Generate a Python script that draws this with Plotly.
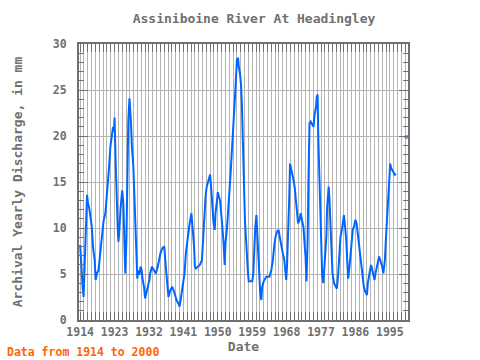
import plotly.graph_objects as go

# Decimal-year positions and discharge values (mm)
years = [1914.0, 1914.1, 1914.3, 1914.65, 1914.9, 1915.2, 1915.4, 1915.8, 1916.05, 1916.4, 1916.7, 1917.0,
         1917.4, 1917.8, 1918.05, 1918.4, 1918.8, 1919.3, 1919.7, 1920.1, 1920.6, 1921.0, 1921.4, 1921.6,
         1921.9, 1922.2, 1922.6, 1922.85, 1923.0, 1923.3, 1923.5, 1923.8, 1924.0, 1924.2, 1924.6, 1925.0,
         1925.3, 1925.5, 1925.6, 1925.8, 1926.1, 1926.25, 1926.4, 1926.6, 1926.9, 1927.1, 1927.3, 1927.55,
         1927.9, 1928.1, 1928.3, 1928.6, 1928.8, 1928.95, 1929.2, 1929.5, 1929.8, 1930.1, 1930.3, 1930.7,
         1931.0, 1931.3, 1931.7, 1932.1, 1932.3, 1932.8, 1933.3, 1933.8, 1934.3, 1934.6, 1935.0, 1935.5,
         1936.0, 1936.4, 1936.8, 1937.1, 1937.6, 1938.1, 1938.7, 1939.2, 1939.7, 1940.0, 1940.4, 1941.0,
         1941.3, 1941.65, 1942.1, 1942.5, 1943.1, 1943.4, 1943.8, 1944.0, 1944.3, 1944.8, 1945.3, 1945.85,
         1946.2, 1946.5, 1946.8, 1947.1, 1947.6, 1948.0, 1948.4, 1948.6, 1948.9, 1949.2, 1949.4, 1949.8,
         1950.0, 1950.3, 1950.6, 1950.9, 1951.2, 1951.5, 1951.8, 1952.0, 1952.4, 1952.7, 1953.1, 1953.35,
         1953.6, 1953.9, 1954.1, 1954.4, 1954.65, 1955.0, 1955.3, 1955.5, 1955.8, 1956.05, 1956.3, 1956.6,
         1956.8, 1957.1, 1957.4, 1957.6, 1957.9, 1958.1, 1958.6, 1959.0, 1959.3, 1959.5, 1959.8, 1960.1,
         1960.3, 1960.6, 1960.8, 1961.1, 1961.4, 1961.6, 1962.0, 1962.3, 1962.7, 1963.1, 1963.5, 1964.0,
         1964.4, 1964.8, 1965.1, 1965.5, 1965.9, 1966.2, 1966.6, 1967.0, 1967.4, 1967.6, 1967.9, 1968.1,
         1968.4, 1968.7, 1968.9, 1969.2, 1969.5, 1969.8, 1970.1, 1970.4, 1970.7, 1971.0, 1971.4, 1971.7,
         1972.0, 1972.4, 1972.7, 1972.95, 1973.2, 1973.5, 1973.7, 1974.0, 1974.3, 1974.7, 1975.05, 1975.3,
         1975.7, 1975.9, 1976.1, 1976.3, 1976.5, 1976.8, 1977.05, 1977.3, 1977.6, 1977.8, 1978.1, 1978.4,
         1978.6, 1979.0, 1979.2, 1979.5, 1979.75, 1980.0, 1980.4, 1980.7, 1981.15, 1981.5, 1981.85, 1982.1,
         1982.45, 1982.7, 1983.0, 1983.3, 1983.6, 1983.85, 1984.1, 1984.45, 1984.7, 1985.1, 1985.3, 1985.7,
         1986.0, 1986.3, 1986.55, 1986.8, 1987.1, 1987.3, 1987.6, 1987.9, 1988.2, 1988.55, 1989.0, 1989.25,
         1989.6, 1989.9, 1990.1, 1990.4, 1990.7, 1991.0, 1991.25, 1991.6, 1991.9, 1992.2, 1992.5, 1992.7,
         1993.0, 1993.3, 1993.7, 1994.0, 1994.3, 1994.6, 1994.8, 1995.1, 1995.35, 1995.6, 1996.0, 1996.3,
         1996.6, 1998.0, 1999.3]

discharge = [8.15, 7.25, 5.07, 3.6, 2.5, 6.7, 9.4, 13.6, 12.7, 12.1, 11.2, 10.3,
             7.8, 6.5, 4.35, 5.07, 5.4, 7.8, 9.2, 10.7, 11.6, 13.4, 15.2, 16.8,
             18.8, 19.9, 21.0, 20.5, 22.0, 17.0, 13.6, 10.3, 8.5, 9.4, 12.3, 14.1,
             12.7, 9.6, 6.7, 5.07, 8.7, 12.3, 17.0, 21.7, 24.1, 23.2, 21.4, 18.8,
             16.8, 14.5, 11.6, 8.7, 5.8, 4.5, 5.4, 4.9, 5.8, 5.4, 4.5, 3.6,
             2.35, 2.9, 3.6, 4.35, 5.07, 5.8, 5.4, 5.07, 5.8, 6.5, 7.25, 7.8,
             8.0, 5.8, 3.26, 2.5, 3.26, 3.6, 2.9, 2.17, 1.8, 1.45, 2.5, 4.0,
             5.07, 7.25, 9.05, 10.1, 11.6, 10.1, 8.0, 5.8, 5.6, 5.8, 5.98, 6.5,
             9.4, 11.6, 13.4, 14.5, 15.1, 15.8, 13.6, 12.0, 10.5, 9.8, 11.6, 13.0,
             13.9, 13.4, 13.0, 11.6, 10.1, 8.5, 5.98, 8.3, 9.96, 12.3, 14.1, 15.9,
             17.75, 19.6, 21.4, 23.4, 25.4, 28.3, 28.5, 27.5, 26.8, 25.7, 23.55, 18.8,
             14.1, 10.9, 8.7, 6.9, 5.07, 4.2, 4.2, 4.2, 5.07, 8.0, 10.1, 11.4,
             9.4, 8.0, 5.6, 2.9, 2.17, 3.6, 4.2, 4.5, 4.7, 4.7, 4.7, 5.4,
             6.5, 8.15, 9.05, 9.6, 9.8, 9.05, 8.0, 7.25, 6.5, 5.8, 4.35, 5.8,
             8.7, 13.4, 17.0, 16.5, 15.9, 15.2, 14.5, 13.4, 12.3, 10.5, 10.9, 11.6,
             10.9, 10.1, 8.3, 6.9, 4.2, 8.7, 14.86, 21.4, 21.56, 21.2, 21.0, 22.3,
             23.2, 24.3, 24.5, 19.6, 16.7, 13.4, 8.7, 4.9, 4.0, 5.07, 6.5, 9.05,
             12.3, 14.5, 13.2, 10.1, 8.0, 5.07, 4.0, 3.8, 3.4, 5.07, 8.0, 9.05,
             9.8, 10.7, 11.4, 10.1, 8.7, 6.5, 4.5, 5.8, 7.25, 9.05, 9.8, 10.3,
             10.9, 10.5, 9.8, 8.7, 7.6, 6.9, 5.8, 4.5, 3.6, 3.1, 2.7, 4.0,
             5.07, 5.6, 5.98, 5.4, 4.7, 4.35, 5.07, 5.8, 6.2, 6.9, 6.5, 6.3,
             5.8, 5.07, 6.5, 9.05, 11.6, 13.6, 15.9, 17.0, 16.5, 16.3, 15.9, 15.8,
             15.9, None, 19.9]

tick_years = [1914, 1923, 1932, 1941, 1950, 1959, 1968, 1977, 1986, 1995]
y_ticks = [0, 5, 10, 15, 20, 25, 30]

# marker only for isolated points (no neighbours on either side)
sizes = []
for i, v in enumerate(discharge):
    prev_ok = i > 0 and discharge[i - 1] is not None
    next_ok = i < len(discharge) - 1 and discharge[i + 1] is not None
    sizes.append(5 if (v is not None and not prev_ok and not next_ok) else 0)

FONT = "DejaVu Sans Mono"
GRAY = "#707070"
PLOT_W = 329
PLOT_H = 276

fig = go.Figure()
fig.add_trace(go.Scatter(
    x=years, y=discharge, mode="lines+markers",
    line=dict(color="#0066ff", width=2),
    marker=dict(size=sizes, color="#0066ff"),
    connectgaps=False, showlegend=False, hoverinfo="skip",
))

fig.update_layout(
    width=480, height=360,
    margin=dict(l=79, r=72, t=44, b=40, autoexpand=False),
    paper_bgcolor="white", plot_bgcolor="white",
    title=dict(text="<b>Assiniboine River At Headingley</b>", x=254 / 480, xanchor="center",
               y=1 - 18 / 360, yanchor="middle",
               font=dict(family=FONT, size=13, color=GRAY)),
    font=dict(family=FONT, color=GRAY),
)

fig.update_xaxes(
    automargin=False,
    range=[1913.7, 1999.75],
    tickvals=tick_years, ticktext=[f"<b>{t}</b>" for t in tick_years],
    ticks="inside", ticklen=8, tickwidth=1, tickcolor=GRAY,
    tickfont=dict(family=FONT, size=11.5, color=GRAY),
    showgrid=True, gridcolor="#b4b4b4", gridwidth=1,
    minor=dict(dtick=1, tick0=1914, ticks="inside", ticklen=8, tickcolor=GRAY,
               showgrid=True, gridcolor="#b4b4b4", gridwidth=1),
    showline=True, linecolor=GRAY, linewidth=2, mirror="ticks",
    zeroline=False,
    title=dict(text="<b>Date</b>", font=dict(family=FONT, size=13, color=GRAY), standoff=2),
)

fig.update_yaxes(
    automargin=False,
    range=[0, 30],
    tickvals=y_ticks, ticktext=[f"<b>{t}</b>" for t in y_ticks],
    ticks="inside", ticklen=9, tickwidth=1, tickcolor=GRAY,
    tickfont=dict(family=FONT, size=11.5, color=GRAY),
    ticklabelstandoff=8,
    showgrid=True, gridcolor="#b4b4b4", gridwidth=1,
    minor=dict(dtick=1, tick0=0, ticks="inside", ticklen=5, tickcolor=GRAY, showgrid=False),
    showline=True, linecolor=GRAY, linewidth=2, mirror="ticks",
    zeroline=False,
    title=dict(text="<b>Archival Yearly Discharge, in mm</b>",
               font=dict(family=FONT, size=13, color=GRAY), standoff=27),
)

fig.add_annotation(
    text="<b>Data from 1914 to 2000</b>", xref="paper", yref="paper",
    x=-74 / PLOT_W, y=-32 / PLOT_H, xanchor="left", yanchor="middle", showarrow=False,
    font=dict(family=FONT, size=11.5, color="#ff6600"),
)

fig.write_html("out.html", config={"displayModeBar": False},
               post_script="document.body.style.margin='0';")
